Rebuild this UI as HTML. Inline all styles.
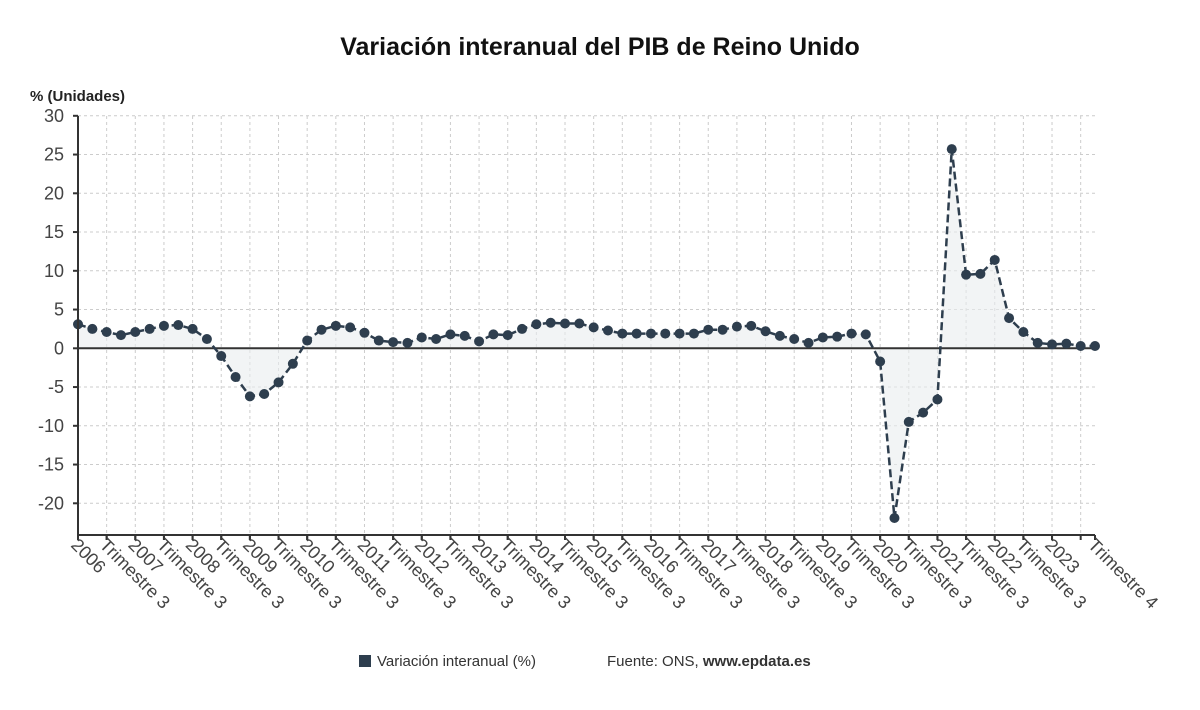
<!DOCTYPE html>
<html><head><meta charset="utf-8"><style>
body{margin:0;background:#fff;font-family:"Liberation Sans",sans-serif}
</style></head><body>
<svg id="c" width="1200" height="705" xmlns="http://www.w3.org/2000/svg" font-family="Liberation Sans, sans-serif">
<text x="600" y="55" text-anchor="middle" font-size="25" font-weight="bold" fill="#111">Variación interanual del PIB de Reino Unido</text>
<text x="30" y="101" font-size="15" font-weight="bold" fill="#222">% (Unidades)</text>
<g id="grid"></g><g id="marks"></g><g id="axes"></g>
<g>
<rect x="359" y="655" width="12" height="12" fill="#2e3e4e"/>
<text x="377" y="666" font-size="15" fill="#333">Variación interanual (%)</text>
<text x="607" y="666" font-size="15" fill="#333">Fuente: ONS, <tspan font-weight="bold">www.epdata.es</tspan></text>
</g>
</svg>
<script>
const years=[2006,2007,2008,2009,2010,2011,2012,2013,2014,2015,2016,2017,2018,2019,2020,2021,2022,2023];
const values=[3.1,2.5,2.1,1.7,2.1,2.5,2.9,3.0,2.5,1.2,-1.0,-3.7,-6.2,-5.9,-4.4,-2.0,1.0,2.4,2.9,2.7,2.0,1.0,0.8,0.7,1.4,1.2,1.8,1.6,0.9,1.8,1.7,2.5,3.1,3.3,3.2,3.2,2.7,2.3,1.9,1.9,1.9,1.9,1.9,1.9,2.4,2.4,2.8,2.9,2.2,1.6,1.2,0.7,1.4,1.5,1.9,1.8,-1.7,-21.9,-9.5,-8.3,-6.6,25.7,9.5,9.6,11.4,3.9,2.1,0.7,0.5,0.6,0.3,0.3];
const yTicks=[30,25,20,15,10,5,0,-5,-10,-15,-20];
const NS="http://www.w3.org/2000/svg";
const x0=78,x1=1095,yTop=116,yBot=535,n=values.length;
const X=i=>x0+i*(x1-x0)/(n-1);
const Y=v=>348.3-v*7.75;
function mk(t,a,p){const e=document.createElementNS(NS,t);for(const k in a)e.setAttribute(k,a[k]);p.appendChild(e);return e;}
const grid=document.getElementById('grid'),marks=document.getElementById('marks'),axes=document.getElementById('axes');
yTicks.forEach(t=>{
 const l=mk('line',{x1:x0,x2:x1,y1:Y(t),y2:Y(t),stroke:'#ccc','stroke-dasharray':'3,3'},grid);
 
 
 const tx=mk('text',{x:64,y:Y(t)+6,'text-anchor':'end','font-size':18,fill:'#444'},axes);
 tx.textContent=t;
 
 
 mk('line',{x1:x0-5,x2:x0,y1:Y(t),y2:Y(t),stroke:'#333','stroke-width':2},axes);
});
for(let i=0;i<n;i+=2){
 const l=mk('line',{x1:X(i),x2:X(i),y1:yTop,y2:yBot,stroke:'#ccc','stroke-dasharray':'3,3'},grid);
 
 
 mk('line',{x1:X(i),x2:X(i),y1:yBot,y2:yBot+5,stroke:'#333','stroke-width':2},axes);
}
let labels=[];
for(let i=0;i<n-2;i+=2){labels.push([i,(i%4===0)?String(years[i/4]):'Trimestre 3']);}
labels.push([n-1,'Trimestre 4']);
labels.forEach(([i,s])=>{
 mk('line',{x1:X(i),x2:X(i),y1:yBot,y2:yBot+5,stroke:'#333','stroke-width':2},axes);
 const tx=mk('text',{x:0,y:0,'font-size':18,fill:'#444',transform:`translate(${X(i)-8},${yBot+11}) rotate(45)`},axes);
 tx.textContent=s;
 
 
});
let d='M'+X(0)+','+Y(0);values.forEach((v,i)=>d+=' L'+X(i)+','+Y(v));d+=' L'+X(n-1)+','+Y(0)+' Z';
const area=mk('path',{d:d,fill:'#e9ecef','fill-opacity':0.6},marks);


const zl=mk('line',{x1:x0,x2:x1,y1:Y(0),y2:Y(0),stroke:'#333','stroke-width':2},marks);


const pts=values.map((v,i)=>X(i)+','+Y(v)).join(' ');
const line=mk('polyline',{points:pts,fill:'none',stroke:'#2e3e4e','stroke-width':2.5,'stroke-dasharray':'8,4'},marks);


values.forEach((v,i)=>{
 const c=mk('circle',{cx:X(i),cy:Y(v),r:5,fill:'#2e3e4e'},marks);
 
 
});
mk('line',{x1:x0,x2:x0,y1:yTop,y2:yBot,stroke:'#333','stroke-width':2},axes);
mk('line',{x1:x0,x2:x1,y1:yBot,y2:yBot,stroke:'#333','stroke-width':2},axes);
</script>
</body></html>
